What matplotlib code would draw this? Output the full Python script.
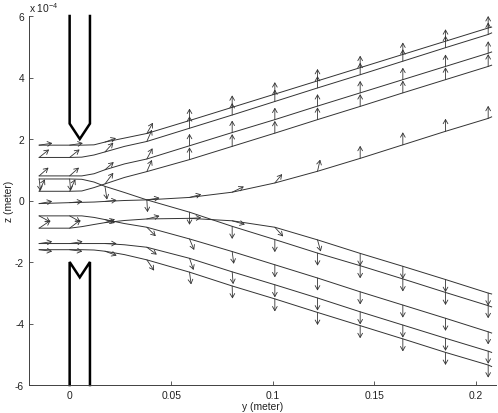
import numpy as np
import matplotlib
matplotlib.use('Agg')
import matplotlib.pyplot as plt

plt.rcParams['font.family'] = ['Liberation Sans', 'DejaVu Sans']
plt.rcParams['mathtext.fontset'] = 'custom'
plt.rcParams['mathtext.rm'] = 'Liberation Sans'
plt.rcParams['mathtext.default'] = 'rm'

# y positions (meter) where the traces were read
y_grid = [-0.015, 0, 0.006, 0.012, 0.0174, 0.027, 0.038, 0.059, 0.08, 0.101,
          0.122, 0.143, 0.164, 0.185, 0.206, 0.2077]
# index into y_grid of the points that carry an arrow
arrow_idx = [0, 1, 4, 6, 7, 8, 9, 10, 11, 12, 13, 14]

# z of each trace, units of 1e-4 m
z_a = [1.8, 1.8, 1.8, 1.81, 1.9, 2.03, 2.18, 2.60, 3.03, 3.46, 3.89, 4.32, 4.75, 5.18, 5.61, 5.64]
z_b = [1.4, 1.4, 1.41, 1.48, 1.58, 1.76, 1.92, 2.35, 2.78, 3.22, 3.66, 4.09, 4.53, 4.97, 5.40, 5.45]
z_c = [0.8, 0.8, 0.8, 0.87, 1.0, 1.19, 1.35, 1.78, 2.21, 2.63, 3.07, 3.5, 3.93, 4.36, 4.79, 4.83]
z_d = [0.7, 0.7, 0.69, 0.6, 0.46, 0.26, 0.02, -0.38, -0.84, -1.27, -1.71, -2.12, -2.55, -2.99, -3.42, -3.46]
z_e = [0.3, 0.3, 0.31, 0.42, 0.54, 0.75, 0.94, 1.33, 1.76, 2.19, 2.63, 3.06, 3.5, 3.93, 4.36, 4.4]
z_f = [-0.1, -0.07, -0.06, -0.05, -0.03, 0, 0.02, 0.1, 0.27, 0.57, 0.95, 1.37, 1.81, 2.25, 2.67, 2.72]
z_g = [-0.5, -0.5, -0.5, -0.55, -0.62, -0.75, -0.87, -1.25, -1.66, -2.09, -2.52, -2.97, -3.40, -3.83, -4.27, -4.31]
z_h = [-0.9, -0.9, -0.85, -0.78, -0.72, -0.65, -0.6, -0.58, -0.66, -0.87, -1.28, -1.72, -2.14, -2.57, -3.01, -3.04]
z_i = [-1.4, -1.4, -1.4, -1.4, -1.4, -1.44, -1.52, -1.88, -2.32, -2.74, -3.17, -3.62, -4.05, -4.48, -4.90, -4.94]
z_j = [-1.6, -1.6, -1.6, -1.61, -1.65, -1.76, -1.93, -2.33, -2.78, -3.2, -3.64, -4.07, -4.50, -4.94, -5.35, -5.40]

# arrow components: u in 1e-3 m along y, v in 1e-4 m along z
u_a = [6.5, 6.5, 5.4, 3, 0, 0, 0, 0, 0, 0, 0, 0]
v_a = [0.065, 0.065, 0.13, 0.35, 0.39, 0.39, 0.39, 0.39, 0.39, 0.39, 0.39, 0.39]
u_b = [4.9, 4.9, 4.1, 2.5, 0, 0, 0, 0, 0, 0, 0, 0]
v_b = [0.26, 0.26, 0.30, 0.38, 0.39, 0.39, 0.39, 0.39, 0.39, 0.39, 0.39, 0.39]
u_c = [4.6, 4.6, 4.3, 2.8, 0, 0, 0, 0, 0, 0, 0, 0]
v_c = [0.27, 0.27, 0.25, 0.35, 0.39, 0.39, 0.39, 0.39, 0.39, 0.39, 0.39, 0.39]
u_d = [0.65, 0.5, 1, 0.35, 0, 0, 0, 0, 0, 0, 0, 0]
v_d = [-0.39, -0.39, -0.43, -0.4, -0.41, -0.41, -0.41, -0.41, -0.41, -0.41, -0.41, -0.41]
u_e = [2.8, 2.8, 4.1, 2.5, 0, 0, 0, 0, 0, 0, 0, 0]
v_e = [0.39, 0.39, 0.36, 0.38, 0.4, 0.4, 0.4, 0.4, 0.4, 0.4, 0.4, 0.4]
u_f = [6.4, 6.25, 5.76, 6.25, 5.76, 5.76, 3.6, 1.3, 0, 0, 0, 0]
v_f = [0.075, 0.04, 0.04, 0.065, 0.1, 0.185, 0.29, 0.38, 0.41, 0.41, 0.41, 0.41]
u_g = [5.6, 5.4, 4.9, 4.4, 2.3, 0.8, 0, 0, 0, 0, 0, 0]
v_g = [-0.2, -0.2, -0.11, -0.29, -0.36, -0.4, -0.41, -0.41, -0.41, -0.41, -0.41, -0.41]
u_h = [5.6, 5.4, 4.9, 6.25, 5.76, 6.25, 4.1, 1.6, 0, 0, 0, 0]
v_h = [0.25, 0.27, 0.11, 0.1, 0.02, -0.12, -0.3, -0.38, -0.41, -0.41, -0.41, -0.41]
u_i = [6.4, 6.4, 5.76, 4.9, 2, 0.5, 0, 0, 0, 0, 0, 0]
v_i = [0.065, 0.065, 0, -0.24, -0.38, -0.4, -0.41, -0.41, -0.41, -0.41, -0.41, -0.41]
u_j = [6.4, 6.25, 5.76, 3.6, 0.8, 0.15, 0, 0, 0, 0, 0, 0]
v_j = [-0.055, -0.055, -0.14, -0.35, -0.4, -0.41, -0.41, -0.41, -0.41, -0.41, -0.41, -0.41]

# electrode outlines
upper_y = [0, 0, 0.005, 0.01, 0.01]
upper_z = [6, 2.5, 2, 2.5, 6]
lower_y = [0, 0, 0.005, 0.01, 0.01]
lower_z = [-6, -2, -2.5, -2, -6]

x_ticks = [0, 0.05, 0.1, 0.15, 0.2]
x_labels = ['0', '0.05', '0.1', '0.15', '0.2']
y_ticks = [-6, -4, -2, 0, 2, 4, 6]
y_labels = ['-6', '-4', '-2', '0', '2', '4', '6']

traces = [(z_a, u_a, v_a), (z_b, u_b, v_b), (z_c, u_c, v_c), (z_d, u_d, v_d),
          (z_e, u_e, v_e), (z_f, u_f, v_f), (z_g, u_g, v_g), (z_h, u_h, v_h),
          (z_i, u_i, v_i), (z_j, u_j, v_j)]

fig = plt.figure(figsize=(4.98, 4.14), dpi=100)
ax = fig.add_axes([29 / 498, 28 / 414, 467.3 / 498, 369 / 414])
line_color = '#333333'

for z, u, v in traces:
    ax.plot(y_grid, z, color=line_color, lw=0.7, solid_joinstyle='round')
    for k, i in enumerate(arrow_idx):
        ax.annotate('', xy=(y_grid[i] + u[k] * 1e-3, z[i] + v[k]), xytext=(y_grid[i], z[i]),
                    arrowprops=dict(arrowstyle='->,head_length=0.3,head_width=0.17',
                                    color=line_color, lw=0.6, shrinkA=0, shrinkB=0))

ax.plot(upper_y, upper_z, color='k', lw=1.8, solid_joinstyle='miter', clip_on=False)
ax.plot(lower_y, lower_z, color='k', lw=1.8, solid_joinstyle='miter', clip_on=False)

ax.set_xlim(-0.02, 0.21)
ax.set_ylim(-6, 6)
ax.set_xticks(x_ticks)
ax.set_xticklabels(x_labels)
ax.set_yticks(y_ticks)
ax.set_yticklabels(y_labels)
ax.tick_params(direction='in', length=3, width=0.6, color='#404040', labelsize=7.4,
               labelcolor='#222222', pad=3.5)
ax.spines['top'].set_visible(False)
ax.spines['right'].set_visible(False)
for side in ['left', 'bottom']:
    ax.spines[side].set_linewidth(0.7)
    ax.spines[side].set_color('#404040')

ax.set_xlabel('y (meter)', fontsize=7.4, color='#222222', labelpad=1)
ax.set_ylabel('z (meter)', fontsize=7.4, color='#222222', labelpad=1)
ax.text(0, 1.005, r'x 10$^{-4}$', transform=ax.transAxes, fontsize=7.4, color='#222222',
        ha='left', va='bottom')

fig.savefig('out.png', dpi=100)
